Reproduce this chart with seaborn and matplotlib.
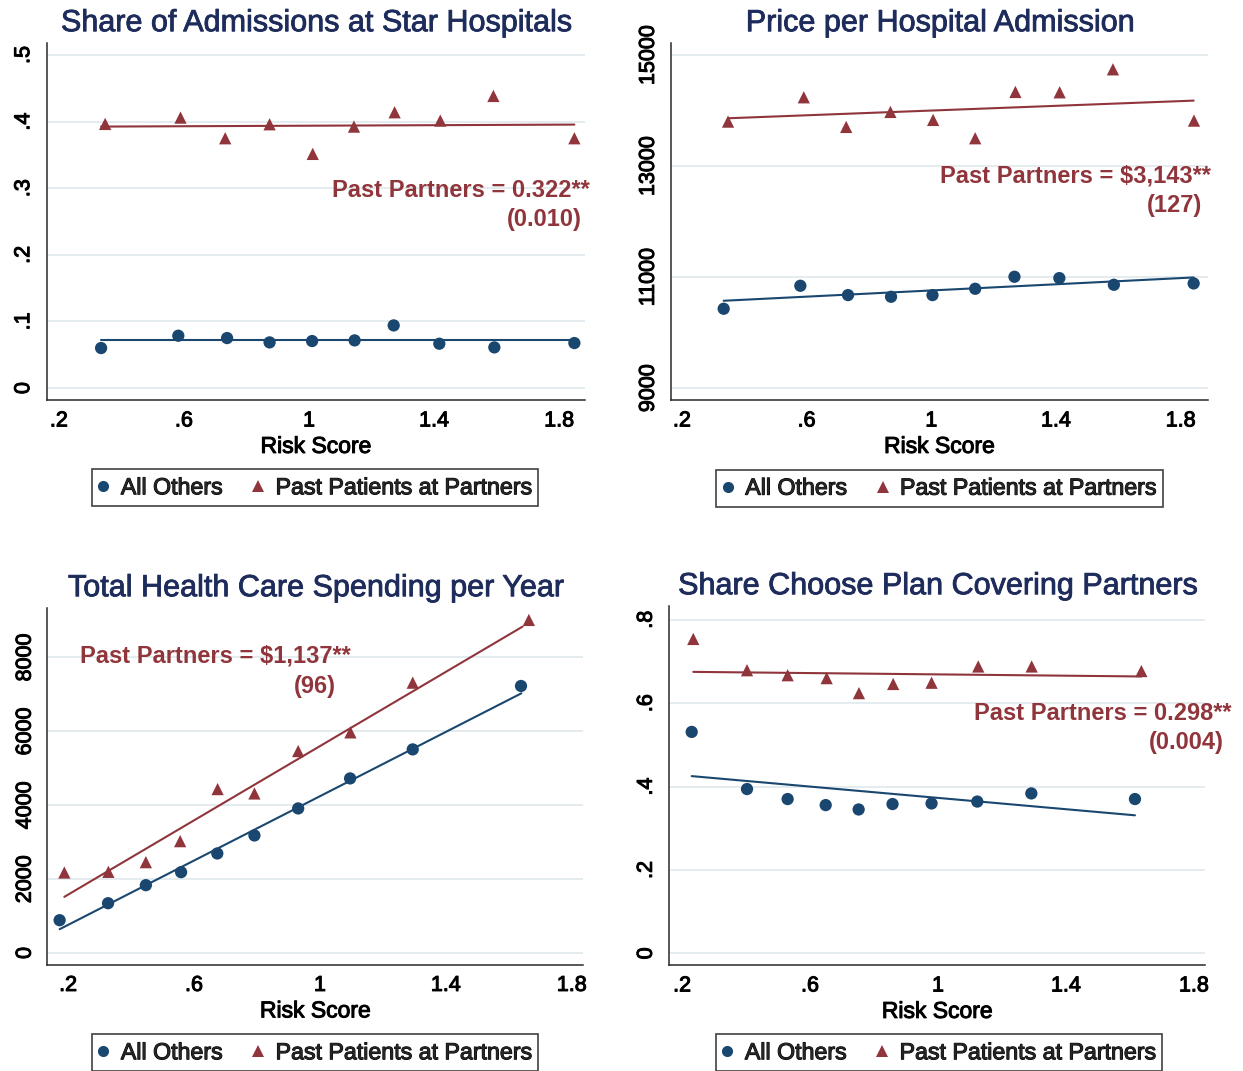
import numpy as np
import pandas as pd
import matplotlib
matplotlib.use("Agg")
import matplotlib.pyplot as plt
import matplotlib.patheffects as pe
from matplotlib.lines import Line2D
import seaborn as sns

# ---------------- data ----------------
groups = ["All Others", "Past Patients at Partners"]

# Share of admissions at star hospitals
star_x_oth = [0.335, 0.582, 0.738, 0.874, 1.010, 1.146, 1.271, 1.417, 1.593, 1.849]
star_y_oth = [0.060, 0.0785, 0.075, 0.0685, 0.0705, 0.0715, 0.094, 0.0665, 0.061, 0.0675]
star_x_par = [0.348, 0.589, 0.732, 0.874, 1.012, 1.144, 1.274, 1.420, 1.590, 1.849]
star_y_par = [0.3965, 0.406, 0.375, 0.396, 0.3515, 0.3925, 0.414, 0.4015, 0.4385, 0.375]
star_fit_x_oth, star_fit_y_oth = [0.335, 1.849], [0.0715, 0.0715]
star_fit_x_par, star_fit_y_par = [0.335, 1.849], [0.3925, 0.3955]

# Price per hospital admission
price_x_oth = [0.334, 0.580, 0.733, 0.871, 1.004, 1.141, 1.267, 1.411, 1.586, 1.842]
price_y_oth = [10428, 10842, 10674, 10644, 10674, 10788, 11004, 10980, 10860, 10884]
price_x_par = [0.348, 0.591, 0.727, 0.869, 1.006, 1.141, 1.270, 1.412, 1.583, 1.843]
price_y_par = [13800, 14238, 13704, 13974, 13830, 13500, 14334, 14328, 14742, 13818]
price_fit_x_oth, price_fit_y_oth = [0.334, 1.842], [10572, 10992]
price_fit_x_par, price_fit_y_par = [0.348, 1.842], [13860, 14178]

# Total health care spending per year
spend_x_oth = [0.173, 0.327, 0.447, 0.559, 0.674, 0.792, 0.931, 1.096, 1.295, 1.639]
spend_y_oth = [885, 1345, 1833, 2185, 2691, 3179, 3910, 4723, 5508, 7224]
spend_x_par = [0.188, 0.328, 0.447, 0.556, 0.675, 0.792, 0.931, 1.097, 1.295, 1.664]
spend_y_par = [2176, 2194, 2456, 3025, 4434, 4316, 5463, 5969, 7314, 9012]
spend_fit_x_oth, spend_fit_y_oth = [0.173, 1.640], [641, 7025]
spend_fit_x_par, spend_fit_y_par = [0.188, 1.644], [1517, 8831]

# Share choosing a plan that covers partner hospitals
plan_x_oth = [0.230, 0.403, 0.530, 0.649, 0.752, 0.858, 0.980, 1.123, 1.292, 1.616]
plan_y_oth = [0.531, 0.394, 0.370, 0.3555, 0.345, 0.358, 0.3595, 0.364, 0.3835, 0.370]
plan_x_par = [0.235, 0.403, 0.530, 0.652, 0.753, 0.860, 0.980, 1.126, 1.293, 1.636]
plan_y_par = [0.754, 0.679, 0.667, 0.660, 0.624, 0.646, 0.649, 0.688, 0.688, 0.677]
plan_fit_x_oth, plan_fit_y_oth = [0.230, 1.616], [0.425, 0.331]
plan_fit_x_par, plan_fit_y_par = [0.235, 1.636], [0.675, 0.664]

titles = ["Share of Admissions at Star Hospitals", "Price per Hospital Admission",
          "Total Health Care Spending per Year", "Share Choose Plan Covering Partners"]
effect_labels = ["Past Partners = 0.322**", "Past Partners = $3,143**",
                 "Past Partners = $1,137**", "Past Partners = 0.298**"]
se_labels = ["(0.010)", "(127)", "(96)", "(0.004)"]

x_ticks = [0.2, 0.6, 1.0, 1.4, 1.8]
x_ticklabels = [".2", ".6", "1", "1.4", "1.8"]
y_ticks = [[0, 0.1, 0.2, 0.3, 0.4, 0.5], [9000, 11000, 13000, 15000],
           [0, 2000, 4000, 6000, 8000], [0, 0.2, 0.4, 0.6, 0.8]]
y_ticklabels = [["0", ".1", ".2", ".3", ".4", ".5"], ["9000", "11000", "13000", "15000"],
                ["0", "2000", "4000", "6000", "8000"], ["0", ".2", ".4", ".6", ".8"]]

# ---------------- style ----------------
sns.set_theme(style="white")
plt.rcParams["font.family"] = ["Liberation Sans", "DejaVu Sans"]

NAVY = "#1a476f"
MAROON = "#90353b"
TITLE_C = "#1e2c5c"
GRID_C = "#e3ebef"
AXIS_C = "#2a2a2a"


def heavy(color, lw=0.75):
    # thicken glyph strokes slightly
    return [pe.withStroke(linewidth=lw, foreground=color)]


W, H = 1243, 1071
fig = plt.figure(figsize=(W / 100, H / 100), dpi=100)


def rect(l, r, t, b):
    return [l / W, 1 - b / H, (r - l) / W, (b - t) / H]


panels = [
    dict(rect=rect(46.7, 585, 43, 400), xlim=(0.161, 1.883), ylim=(-0.018, 0.518),
         xo=star_x_oth, yo=star_y_oth, xp=star_x_par, yp=star_y_par,
         fxo=star_fit_x_oth, fyo=star_fit_y_oth, fxp=star_fit_x_par, fyp=star_fit_y_par,
         ann=((1.898, 0.2875), (1.874, 0.2425)), leg=(315, 469.3), ypad=4),
    dict(rect=rect(670.7, 1208, 43, 400), xlim=(0.164, 1.888), ylim=(8784, 15216),
         xo=price_x_oth, yo=price_y_oth, xp=price_x_par, yp=price_y_par,
         fxo=price_fit_x_oth, fyo=price_fit_y_oth, fxp=price_fit_x_par, fyp=price_fit_y_par,
         ann=((1.896, 12702), (1.868, 12180)), leg=(939.4, 469.7), ypad=3.5),
    dict(rect=rect(47.5, 583, 608, 964.5), xlim=(0.1345, 1.836), ylim=(-314, 9335),
         xo=spend_x_oth, yo=spend_y_oth, xp=spend_x_par, yp=spend_y_par,
         fxo=spend_fit_x_oth, fyo=spend_fit_y_oth, fxp=spend_fit_x_par, fyp=spend_fit_y_par,
         ann=((1.098, 7856), (1.050, 7043)), leg=(315, 1034.3), ypad=3.5),
    dict(rect=rect(669.3, 1205, 606, 965), xlim=(0.160, 1.835), ylim=(-0.028, 0.833),
         xo=plan_x_oth, yo=plan_y_oth, xp=plan_x_par, yp=plan_y_par,
         fxo=plan_fit_x_oth, fyo=plan_fit_y_oth, fxp=plan_fit_x_par, fyp=plan_fit_y_par,
         ann=((1.918, 0.560), (1.893, 0.4895)), leg=(939, 1034.3), ypad=4),
]

for i, p in enumerate(panels):
    ax = fig.add_axes(p["rect"])
    pts = pd.DataFrame({
        "risk": list(p["xo"]) + list(p["xp"]),
        "value": list(p["yo"]) + list(p["yp"]),
        "group": [groups[0]] * len(p["xo"]) + [groups[1]] * len(p["xp"]),
    })
    fits = pd.DataFrame({
        "risk": list(p["fxo"]) + list(p["fxp"]),
        "value": list(p["fyo"]) + list(p["fyp"]),
        "group": [groups[0]] * 2 + [groups[1]] * 2,
    })
    sns.lineplot(data=fits, x="risk", y="value", hue="group",
                 palette={groups[0]: NAVY, groups[1]: MAROON},
                 linewidth=1.5, legend=False, ax=ax, zorder=2)
    sns.scatterplot(data=pts, x="risk", y="value", hue="group", style="group",
                    palette={groups[0]: NAVY, groups[1]: MAROON},
                    markers={groups[0]: "o", groups[1]: "^"},
                    s=78, linewidth=0, legend=False, ax=ax, zorder=3)

    ax.set_xlim(*p["xlim"])
    ax.set_ylim(*p["ylim"])
    ax.set_xticks(x_ticks)
    ax.set_xticklabels(x_ticklabels)
    ax.set_yticks(y_ticks[i])
    ax.set_yticklabels(y_ticklabels[i])
    ax.tick_params(axis="both", direction="out", length=5, width=0.9, color=AXIS_C,
                   labelsize=15.5, labelcolor="black")
    ax.tick_params(axis="x", pad=2.5)
    ax.tick_params(axis="y", pad=p["ypad"])
    plt.setp(ax.get_yticklabels(), rotation=90, va="center", ha="right")
    for lab in ax.get_xticklabels() + ax.get_yticklabels():
        lab.set_path_effects(heavy("black"))

    for side in ["top", "right"]:
        ax.spines[side].set_visible(False)
    for side in ["left", "bottom"]:
        ax.spines[side].set_color(AXIS_C)
        ax.spines[side].set_linewidth(1.1)

    ax.yaxis.grid(True, color=GRID_C, linewidth=1.3)
    ax.xaxis.grid(False)
    ax.set_axisbelow(True)

    xl = ax.set_xlabel("Risk Score", fontsize=16.5, color="black", labelpad=2.5)
    xl.set_path_effects(heavy("black"))
    ax.set_ylabel("")
    tt = ax.set_title(titles[i], fontsize=22, color=TITLE_C, pad=8.5)
    tt.set_path_effects(heavy(TITLE_C, 0.6))

    (x1, y1), (x2, y2) = p["ann"]
    ax.text(x1, y1, effect_labels[i], ha="right", va="baseline", fontsize=17,
            fontweight="bold", color=MAROON, clip_on=False)
    ax.text(x2, y2, se_labels[i], ha="right", va="baseline", fontsize=17,
            fontweight="bold", color=MAROON, clip_on=False)

    handles = [
        Line2D([], [], marker="o", linestyle="none", markersize=8.0,
               markerfacecolor=NAVY, markeredgewidth=0),
        Line2D([], [], marker="^", linestyle="none", markersize=8.4,
               markerfacecolor=MAROON, markeredgewidth=0),
    ]
    cx, top = p["leg"]
    leg = ax.legend(handles, groups, loc="upper center", ncol=2,
                    bbox_to_anchor=(cx / W, 1 - top / H), bbox_transform=fig.transFigure,
                    borderaxespad=0, fontsize=16.7, frameon=True, fancybox=False,
                    handlelength=0.4, handletextpad=0.55, columnspacing=1.35,
                    borderpad=0.3)
    leg.get_frame().set_edgecolor("#111111")
    leg.get_frame().set_linewidth(1.2)
    for t in leg.get_texts():
        t.set_path_effects(heavy("black"))

fig.savefig("out.png", dpi=100, facecolor="white")
